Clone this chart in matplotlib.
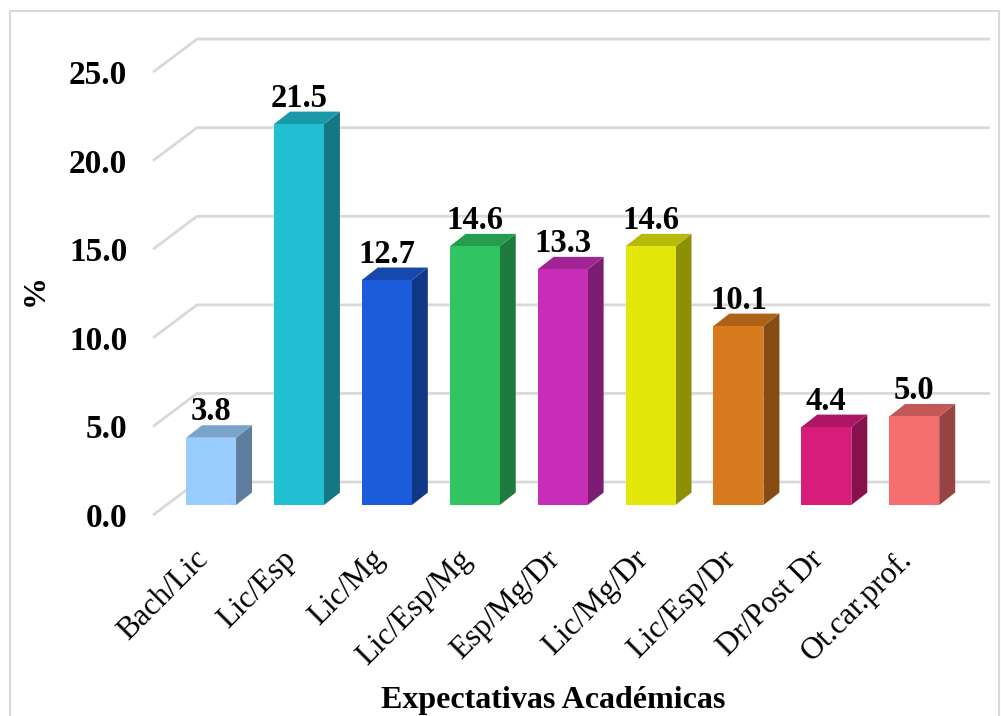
import matplotlib
matplotlib.use("Agg")
import matplotlib.pyplot as plt
from matplotlib.patches import Polygon, Rectangle
from matplotlib.colors import to_rgb
from matplotlib.transforms import ScaledTranslation

# ─── Data ────────────────────────────────────────────────────────────────────
categories = ["Bach/Lic", "Lic/Esp", "Lic/Mg", "Lic/Esp/Mg", "Esp/Mg/Dr",
              "Lic/Mg/Dr", "Lic/Esp/Dr", "Dr/Post Dr", "Ot.car.prof."]
values = [3.8, 21.5, 12.7, 14.6, 13.3, 14.6, 10.1, 4.4, 5.0]
colors = ["#99CCFF", "#20C0D2", "#1C5BD9", "#30C462", "#C82DB8",
          "#E3E80A", "#D87A1E", "#D81C7A", "#F46E6E"]
yticks = [0, 5, 10, 15, 20, 25]

plt.rcParams["font.family"] = ["Liberation Serif", "DejaVu Serif"]

# 3D-ish geometry (data units: x = category index, y = value)
BAR_W = 0.569
DEPTH_DX = 0.182     # side-face shift to the right
DEPTH_DY = 0.705     # side-face shift upwards
WALL_DY = 1.298      # back wall vs bar front plane
FLOOR_DY = -0.564    # front edge of floor vs bar front plane
WALL_X0 = -0.159
FRONT_X0 = -0.660
GRID_X1 = 8.862


def shade(c, f):
    r, g, b = to_rgb(c)
    return (r * f, g * f, b * f)


fig = plt.figure(figsize=(10.01, 7.16), dpi=100)
ax = fig.add_axes([0.1397, 0.2575, 0.8570, 0.7053])
ax.set_xlim(-0.81, 8.95)
ax.set_ylim(-1.5, 27)

# outer border
fig.patches.append(Rectangle((10 / 1001, -0.02), 989 / 1001, 1.0 - 11 / 716 + 0.02,
                             transform=fig.transFigure, fill=False,
                             edgecolor="#D9D9D9", linewidth=1.5))

# gridlines: short diagonal on the floor side + horizontal on the back wall
for v in yticks:
    ax.plot([FRONT_X0, WALL_X0, GRID_X1],
            [v + FLOOR_DY, v + WALL_DY, v + WALL_DY],
            color="#D9D9D9", linewidth=2, solid_capstyle="butt", zorder=1)

for i, (v, c) in enumerate(zip(values, colors)):
    x0, x1 = i - BAR_W / 2, i + BAR_W / 2
    side = Polygon([(x1, 0), (x1 + DEPTH_DX, DEPTH_DY),
                    (x1 + DEPTH_DX, v + DEPTH_DY), (x1, v)],
                   closed=True, facecolor=shade(c, 0.62), edgecolor="none", zorder=2)
    top = Polygon([(x0, v), (x1, v), (x1 + DEPTH_DX, v + DEPTH_DY),
                   (x0 + DEPTH_DX, v + DEPTH_DY)],
                  closed=True, facecolor=shade(c, 0.8), edgecolor="none", zorder=2)
    front = Rectangle((x0, 0), BAR_W, v, facecolor=c, edgecolor="none", zorder=3)
    ax.add_patch(side)
    ax.add_patch(top)
    ax.add_patch(front)
    ax.text(i, v + DEPTH_DY + 0.28, f"{v:.1f}", ha="center", va="baseline",
            fontsize=23.5, fontweight="bold", zorder=4)

# category labels, rotated, anchored just under each bar
lab_off = ax.get_xaxis_transform() + ScaledTranslation(-17 / 100, -13 / 100,
                                                       fig.dpi_scale_trans)
for i, name in enumerate(categories):
    ax.text(i, 0, name, transform=lab_off, rotation=45, ha="right", va="top",
            rotation_mode="anchor", fontsize=22.5)

ax.set_xticks([])
ax.set_yticks([v + FLOOR_DY for v in yticks])
ax.set_yticklabels([f"{v:.1f}" for v in yticks], fontsize=24, fontweight="bold")
ax.tick_params(axis="both", length=0)
ax.tick_params(axis="y", pad=9)
for s in ax.spines.values():
    s.set_visible(False)

ax.set_ylabel("%", fontsize=23, fontweight="bold")
ax.yaxis.set_label_coords(-0.105, 0.478)
ax.set_xlabel("Expectativas Académicas", fontsize=23, fontweight="bold")
ax.xaxis.set_label_coords(0.4817, -0.305)

fig.savefig("out.png", dpi=100)
